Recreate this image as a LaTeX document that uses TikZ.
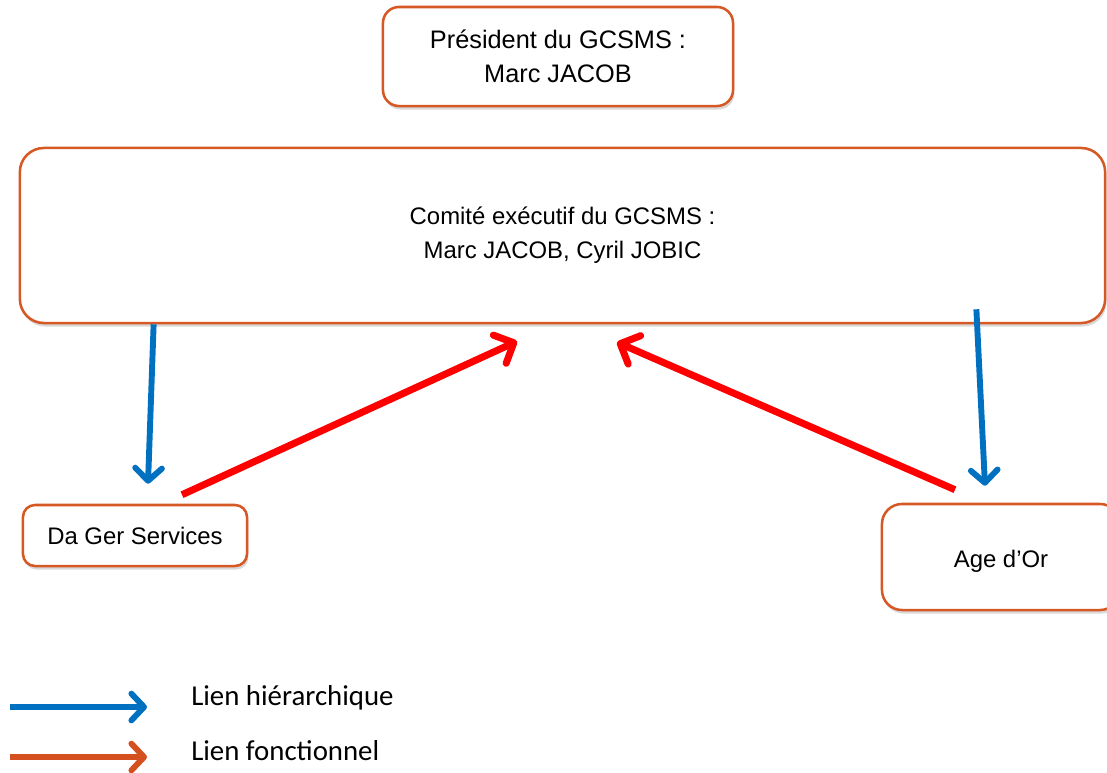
\documentclass[tikz,border=0pt]{standalone}
\usepackage{fontspec}
\setmainfont{Liberation Sans}
\newfontfamily\legendfont{Carlito}
\usetikzlibrary{arrows.meta, shadows}

\definecolor{boxorange}{RGB}{214,88,36}
\definecolor{hierblue}{RGB}{0,112,192}
\definecolor{foncred}{RGB}{255,0,0}
\definecolor{legorange}{RGB}{212,80,30}

\begin{document}
\begin{tikzpicture}[x=0.025cm, y=-0.025cm,
	box/.style={draw=boxorange, line width=1.8pt, rounded corners=0.4cm, fill=white, inner sep=0pt, align=center, font=\fontsize{17}{24}\selectfont, drop shadow={opacity=0.3, shadow xshift=1pt, shadow yshift=-2.5pt}},
	hier/.style={draw=hierblue, line width=4.2pt, -{Straight Barb[length=9pt, width=19pt, round]}},
	fonc/.style={draw=foncred, line width=5pt, -{Straight Barb[length=11pt, width=22pt, round]}},
	legtext/.style={font=\legendfont\fontsize{20.5}{24}\selectfont, inner sep=0pt}]
	\useasboundingbox (0,0) rectangle (1107,772);

	% Nodes
	\node[box, font=\fontsize{18}{24}\selectfont, minimum width=8.75cm, minimum height=2.475cm] (pres) at (558,56.5) {Président du GCSMS :\\Marc JACOB};
	\node[box, rounded corners=0.6cm, minimum width=27.125cm, minimum height=4.375cm] (comite) at (562.5,235.5) {Comité exécutif du GCSMS :\\Marc JACOB, Cyril JOBIC};
	\node[box, rounded corners=0.3cm, minimum width=5.6cm, minimum height=1.525cm] (dager) at (135,535.5) {Da Ger Services};
	\node[box, rounded corners=0.5cm, minimum width=5.95cm, minimum height=2.65cm, text height=19pt, text depth=3.6pt] (age) at (1001,557) {Age d’Or};

	% Hierarchical links
	\draw[hier] ([xshift=3.375cm]comite.south west) -- ([xshift=0.325cm, yshift=0.5cm]dager.north);
	\draw[hier] ([xshift=-3.25cm, yshift=0.375cm]comite.south east) -- ([xshift=-0.4cm, yshift=0.425cm]age.north);

	% Functional links
	\draw[fonc] ([xshift=1.175cm, yshift=0.225cm]dager.north) -- ([xshift=-1.1375cm, yshift=-0.425cm]comite.south);
	\draw[fonc] ([xshift=-1.15cm, yshift=0.325cm]age.north) -- ([xshift=1.3625cm, yshift=-0.45cm]comite.south);

	% Legend
	\node[legtext, anchor=base west] (leghier) at (191,705) {Lien hiérarchique};
	\node[legtext, anchor=base west] (legfonc) at (191,760) {Lien fonctionnel};
	\coordinate (leghstart) at (10,707);
	\coordinate (legfstart) at (10,757);
	\draw[hier] (leghstart) -- ++(137,0);
	\draw[hier, draw=legorange] (legfstart) -- ++(137,0);
\end{tikzpicture}
\end{document}
